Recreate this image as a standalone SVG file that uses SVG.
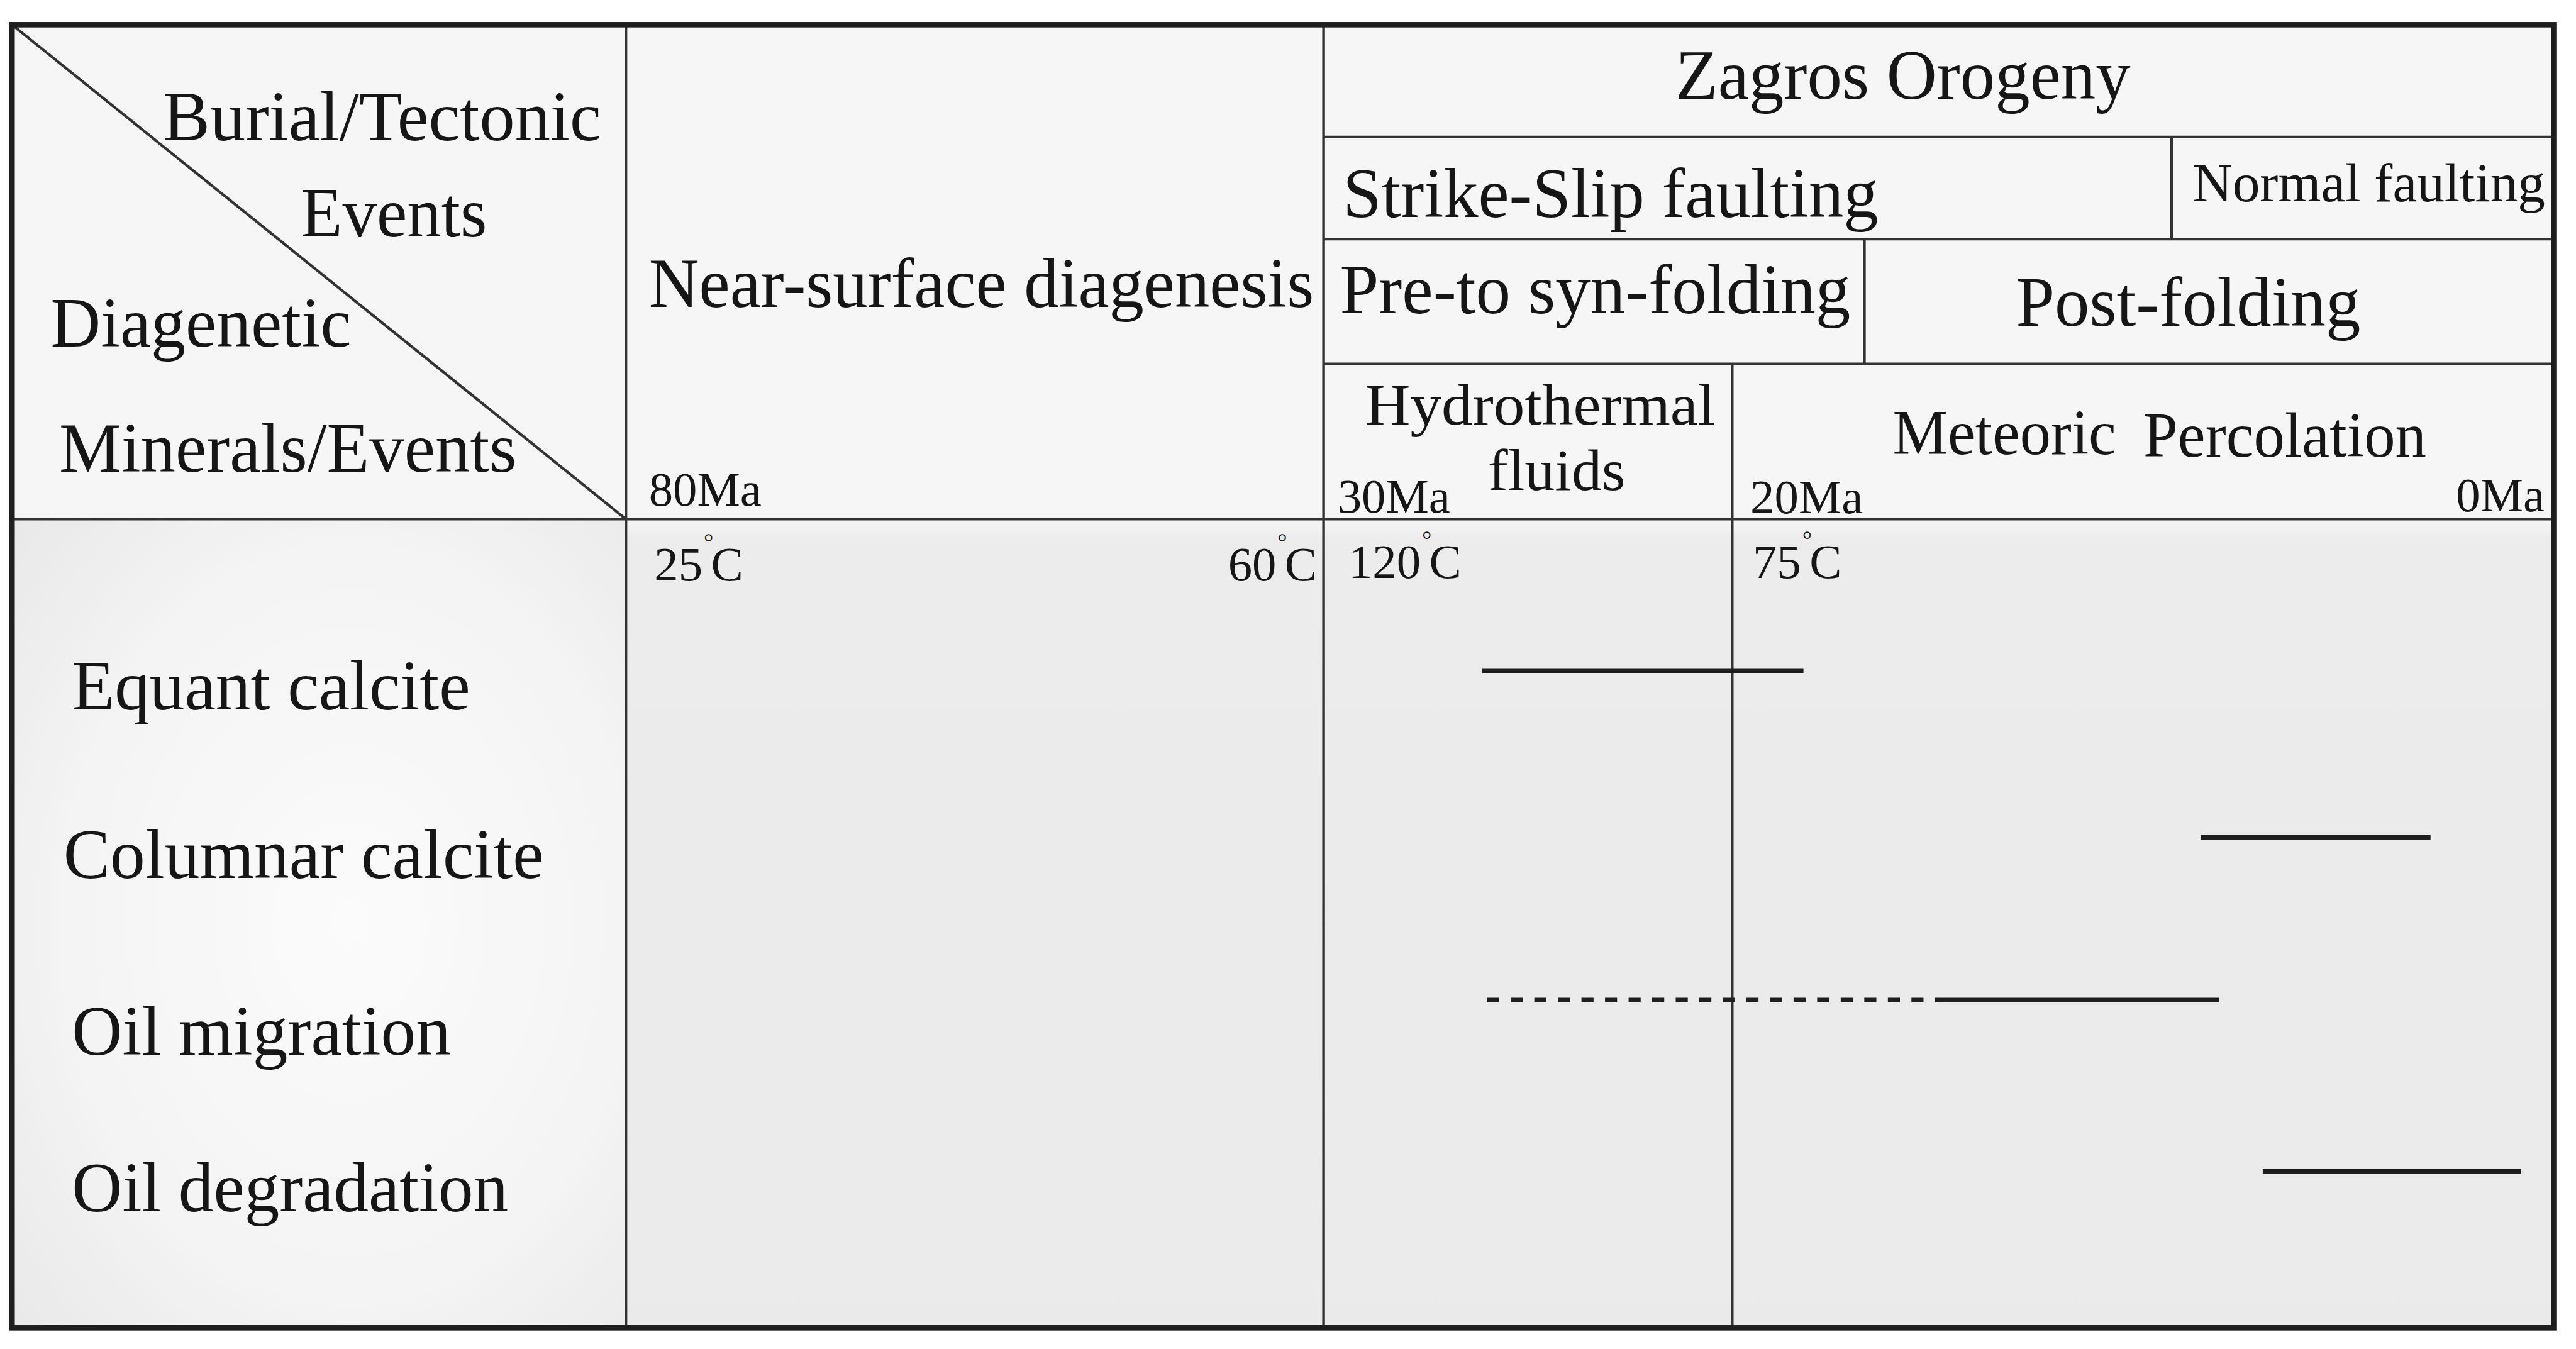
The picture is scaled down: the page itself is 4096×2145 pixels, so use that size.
<svg xmlns="http://www.w3.org/2000/svg" width="4096" height="2145" viewBox="0 0 4096 2145">
<style>
text{font-family:"Liberation Serif","Times New Roman",serif;fill:#161616;}
.t{font-size:116px;}
.h{font-size:97px;}
.m{font-size:105px;}
.n{font-size:91px;}
.s{font-size:80px;}
.deg{font-size:40px;}
.g{stroke:#333;stroke-width:4.5;fill:none;}
.bar{stroke:#1e1e1e;stroke-width:8;fill:none;}
</style>
<defs>
<radialGradient id="leftBg" cx="0.55" cy="0.5" r="0.75">
<stop offset="0" stop-color="#fbfbfb"/>
<stop offset="0.6" stop-color="#f4f4f4"/>
<stop offset="1" stop-color="#e8e8e8"/>
</radialGradient>
<linearGradient id="bodyBg" x1="0" y1="0" x2="0" y2="1">
<stop offset="0" stop-color="#f6f6f6"/>
<stop offset="0.025" stop-color="#ececec"/>
<stop offset="1" stop-color="#eaeaea"/>
</linearGradient>
</defs>
<rect x="0" y="0" width="4096" height="2145" fill="#ffffff"/>
<g transform="scale(0.9597)">
<g id="backgrounds">
<rect x="20" y="41" width="4211" height="819" fill="#f6f6f6"/>
<rect x="20" y="860" width="1017" height="1340" fill="url(#leftBg)"/>
<rect x="1037" y="860" width="3194" height="1340" fill="url(#bodyBg)"/>
</g>
<g id="grid">
<line class="g" x1="20" y1="41" x2="1037" y2="860"/>
<line class="g" x1="20" y1="860" x2="4231" y2="860" stroke-width="6"/>
<line class="g" x1="1037" y1="41" x2="1037" y2="2200"/>
<line class="g" x1="2193" y1="41" x2="2193" y2="2200"/>
<line class="g" x1="2870" y1="603" x2="2870" y2="2200"/>
<line class="g" x1="2193" y1="227" x2="4231" y2="227"/>
<line class="g" x1="2193" y1="396" x2="4231" y2="396"/>
<line class="g" x1="2193" y1="603" x2="4231" y2="603"/>
<line class="g" x1="3598" y1="227" x2="3598" y2="396"/>
<line class="g" x1="3089" y1="396" x2="3089" y2="603"/>
<rect x="20" y="41" width="4211" height="2159" fill="none" stroke="#1e1e1e" stroke-width="9"/>
</g>
<g id="corner-header">
<text class="t" x="270" y="232" textLength="726" lengthAdjust="spacingAndGlyphs">Burial/Tectonic</text>
<text class="t" x="498" y="392" textLength="309" lengthAdjust="spacingAndGlyphs">Events</text>
<text class="t" x="84" y="574" textLength="498" lengthAdjust="spacingAndGlyphs">Diagenetic</text>
<text class="t" x="98" y="782" textLength="758" lengthAdjust="spacingAndGlyphs">Minerals/Events</text>
</g>
<g id="near-surface">
<text class="t" x="1075" y="508" textLength="1102" lengthAdjust="spacingAndGlyphs">Near-surface diagenesis</text>
<text class="s" x="1075" y="838">80Ma</text>
</g>
<g id="zagros">
<text class="t" x="2776" y="164" textLength="754" lengthAdjust="spacingAndGlyphs">Zagros Orogeny</text>
</g>
<g id="strike-slip">
<text class="t" x="2225" y="359" textLength="887" lengthAdjust="spacingAndGlyphs">Strike-Slip faulting</text>
</g>
<g id="normal-faulting">
<text class="n" x="3633" y="333" textLength="584" lengthAdjust="spacingAndGlyphs">Normal faulting</text>
</g>
<g id="pre-syn-folding">
<text class="t" x="2220" y="519" textLength="846" lengthAdjust="spacingAndGlyphs">Pre-to syn-folding</text>
</g>
<g id="post-folding">
<text class="t" x="3340" y="540" textLength="571" lengthAdjust="spacingAndGlyphs">Post-folding</text>
</g>
<g id="hydrothermal">
<text class="h" x="2262" y="703" textLength="580" lengthAdjust="spacingAndGlyphs">Hydrothermal</text>
<text class="h" x="2465" y="812" textLength="228" lengthAdjust="spacingAndGlyphs">fluids</text>
<text class="s" x="2216" y="849">30Ma</text>
</g>
<g id="meteoric">
<text class="m" x="3136" y="752" textLength="370" lengthAdjust="spacingAndGlyphs">Meteoric</text>
<text class="m" x="3551" y="757" textLength="469" lengthAdjust="spacingAndGlyphs">Percolation</text>
<text class="s" x="2900" y="850">20Ma</text>
<text class="s" x="4216" y="847" text-anchor="end">0Ma</text>
</g>
<g id="temperatures">
<text class="s" x="1084" y="962">25<tspan class="deg" dx="2" dy="-50">°</tspan><tspan dx="-4" dy="50">C</tspan></text>
<text class="s" x="2182" y="962" text-anchor="end">60<tspan class="deg" dx="2" dy="-50">°</tspan><tspan dx="-4" dy="50">C</tspan></text>
<text class="s" x="2234" y="958">120<tspan class="deg" dx="2" dy="-50">°</tspan><tspan dx="-4" dy="50">C</tspan></text>
<text class="s" x="2904" y="958">75<tspan class="deg" dx="2" dy="-50">°</tspan><tspan dx="-4" dy="50">C</tspan></text>
</g>
<g id="row-labels">
<text class="t" x="119" y="1175" textLength="660" lengthAdjust="spacingAndGlyphs">Equant calcite</text>
<text class="t" x="105" y="1455" textLength="796" lengthAdjust="spacingAndGlyphs">Columnar calcite</text>
<text class="t" x="119" y="1747" textLength="628" lengthAdjust="spacingAndGlyphs">Oil migration</text>
<text class="t" x="119" y="2007" textLength="723" lengthAdjust="spacingAndGlyphs">Oil degradation</text>
</g>
<g id="connectors">
<line class="bar" x1="2456" y1="1111" x2="2988" y2="1111"/>
<line class="bar" x1="3646" y1="1387" x2="4027" y2="1387"/>
<line class="bar" x1="2464" y1="1657" x2="3226" y2="1657" stroke-dasharray="20 19.05"/>
<line class="bar" x1="3226" y1="1657" x2="3677" y2="1657"/>
<line class="bar" x1="3749" y1="1941" x2="4177" y2="1941"/>
</g>
</g>
</svg>
